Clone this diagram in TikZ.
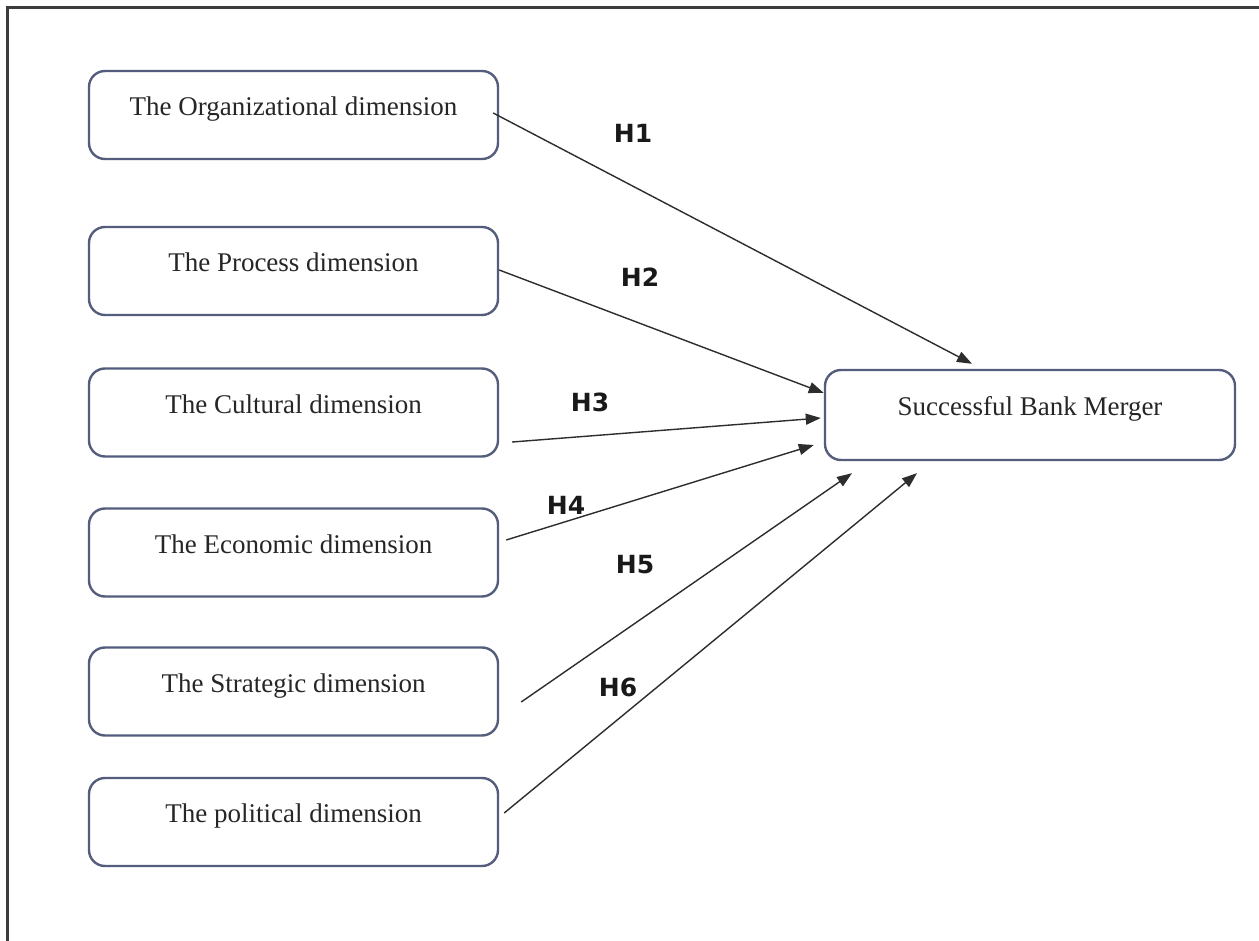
\documentclass[tikz,border=0pt]{standalone}
\usepackage{fontspec}
\setmainfont{Liberation Serif}
\newfontfamily\hfont{DejaVu Sans}
\usetikzlibrary{arrows.meta,calc}
\definecolor{boxc}{RGB}{84,94,124}
\definecolor{arrc}{RGB}{45,45,45}
\definecolor{framec}{RGB}{60,60,60}
\begin{document}
\begin{tikzpicture}[x=1pt,y=1pt,
  dimbox/.style={draw=boxc, line width=2.4pt, rounded corners=16pt,
    minimum width=409pt, minimum height=88pt, inner sep=0pt,
    text height=0.7em, text depth=0.55em,
    font=\fontsize{27}{32}\selectfont, text=black!85},
  hyp/.style={-{Triangle[length=15pt,width=11pt]}, line width=1.4pt, draw=arrc},
  hlab/.style={font=\hfont\bfseries\fontsize{25}{30}\selectfont, text=black!90, inner sep=0pt}]
\useasboundingbox (0,0) rectangle (1259,-941);
\fill[white] (0,0) rectangle (1259,-941);
\draw[line width=3pt, draw=framec] (7,-941) -- (7,-8) -- (1259,-8);

\node[dimbox] (org) at (293.5,-115) {The Organizational dimension};
\node[dimbox] (pro) at (293.5,-271) {The Process dimension};
\node[dimbox] (cul) at (293.5,-412.5) {The Cultural dimension};
\node[dimbox] (eco) at (293.5,-552.5) {The Economic dimension};
\node[dimbox] (str) at (293.5,-691.5) {The Strategic dimension};
\node[dimbox] (pol) at (293.5,-822) {The political dimension};
\node[dimbox, minimum width=410pt, minimum height=90pt, text depth=0.65em] (sbm) at (1030,-415) {Successful Bank Merger};

\draw[hyp] ([xshift=-6pt,yshift=2pt]org.east) -- ([xshift=-58pt,yshift=5pt]sbm.north);
\draw[hyp] ([yshift=1pt]pro.east) -- ([yshift=22pt]sbm.west);
\draw[hyp] ([xshift=13pt,yshift=-29.5pt]cul.east) -- ([xshift=-3pt,yshift=-3pt]sbm.west);
\draw[hyp] ([xshift=7pt,yshift=12.5pt]eco.east) -- ([xshift=-10pt,yshift=-30pt]sbm.west);
\draw[hyp] ([xshift=22pt,yshift=-10.5pt]str.east) -- ([xshift=-178pt,yshift=-12pt]sbm.south);
\draw[hyp] ([xshift=5pt,yshift=9pt]pol.east) -- ([xshift=-113pt,yshift=-12pt]sbm.south);

\node[hlab] (h1) at (633,-133) {H1};
\node[hlab] (h2) at (640,-277) {H2};
\node[hlab] (h3) at (590,-402) {H3};
\node[hlab] (h4) at (566,-505) {H4};
\node[hlab] (h5) at (635,-565) {H5};
\node[hlab] (h6) at (618,-687) {H6};
\end{tikzpicture}
\end{document}
